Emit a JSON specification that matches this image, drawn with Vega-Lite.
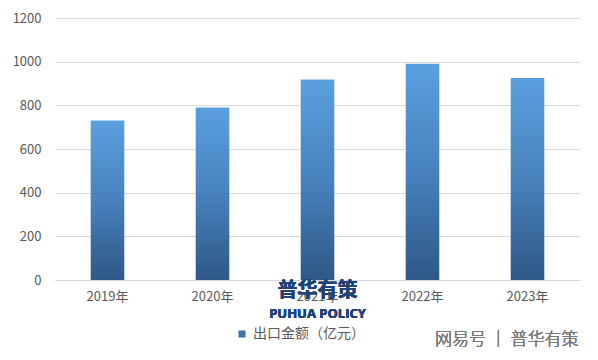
{
  "$schema": "https://vega.github.io/schema/vega-lite/v6.json",
  "width": 525,
  "height": 262,
  "autosize": "none",
  "padding": {"left": 55, "top": 18, "right": 18, "bottom": 80},
  "background": "white",
  "config": {
    "view": {"stroke": null},
    "font": "Noto Sans CJK SC"
  },
  "data": {
    "values": [
      {"year": "2019年", "value": 730, "series": "出口金额（亿元）"},
      {"year": "2020年", "value": 790, "series": "出口金额（亿元）"},
      {"year": "2021年", "value": 918, "series": "出口金额（亿元）"},
      {"year": "2022年", "value": 990, "series": "出口金额（亿元）"},
      {"year": "2023年", "value": 925, "series": "出口金额（亿元）"}
    ]
  },
  "encoding": {
    "x": {
      "field": "year", "type": "ordinal", "sort": null,
      "scale": {"paddingInner": 0.68, "paddingOuter": 0.34},
      "axis": {
        "title": null, "labelAngle": 0, "ticks": false, "domain": true, "zindex": 0,
        "domainColor": "#d9d9d9", "labelFontSize": 13, "labelColor": "#595959",
        "labelPadding": 10, "labelFont": "Noto Sans CJK SC"
      }
    },
    "y": {
      "field": "value", "type": "quantitative",
      "scale": {"domain": [0, 1200]},
      "axis": {
        "title": null, "values": [0, 200, 400, 600, 800, 1000, 1200], "format": "d",
        "ticks": false, "domain": false, "gridColor": "#d9d9d9", "zindex": 0,
        "labelFontSize": 13, "labelColor": "#595959", "labelPadding": 14
      }
    }
  },
  "layer": [
    {
      "mark": {"type": "bar", "color": {"gradient": "linear", "x1": 0, "y1": 0, "x2": 0, "y2": 1, "stops": [{"offset": 0, "color": "#5b9fdf"}, {"offset": 0.5, "color": "#4782bd"}, {"offset": 1, "color": "#2e5886"}]}}
    },
    {
      "mark": {"type": "square", "size": 0, "filled": true, "opacity": 1},
      "encoding": {
        "color": {
          "field": "series", "type": "nominal",
          "scale": {"range": ["#3d74b0"]},
          "legend": {
            "title": null, "orient": "none", "legendX": 180, "legendY": 309, "direction": "horizontal",
            "symbolType": "square", "symbolSize": 50, "labelFontSize": 14, "labelColor": "#595959",
            "symbolStrokeWidth": 0, "labelOffset": 4
          }
        }
      }
    },
    {
      "mark": {"type": "text", "text": "普华有策", "fontSize": 20, "fontWeight": "bold", "color": "#1f4277", "font": "Noto Sans CJK SC", "clip": false},
      "encoding": {
        "x": {"datum": "2021年"},
        "y": {"datum": -52}
      }
    },
    {
      "mark": {"type": "text", "text": "PUHUA POLICY", "fontSize": 13, "fontWeight": "bold", "color": "#1f4277", "font": "Open Sans", "clip": false},
      "encoding": {
        "x": {"datum": "2021年"},
        "y": {"datum": -155}
      }
    },
    {
      "mark": {"type": "text", "text": "网易号 │ 普华有策", "fontSize": 17, "fontWeight": 300, "color": "#7a7a7a", "align": "right", "dx": 51, "font": "Noto Sans CJK SC", "clip": false},
      "encoding": {
        "x": {"datum": "2023年"},
        "y": {"datum": -275}
      }
    }
  ]
}
